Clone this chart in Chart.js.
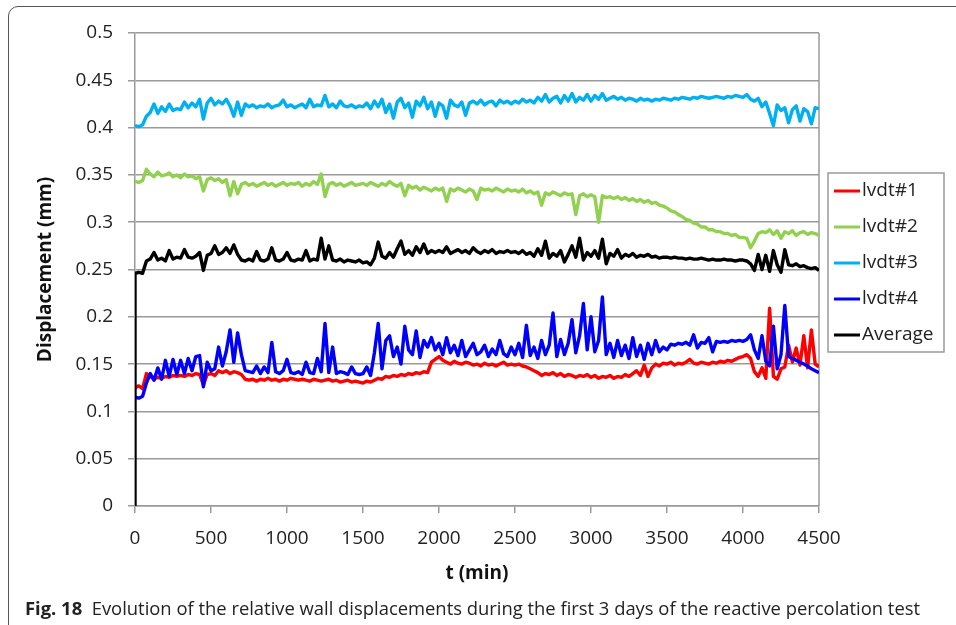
<!DOCTYPE html>
<html>
<head>
<meta charset="utf-8">
<script src="https://cdn.jsdelivr.net/npm/chart.js@4.4.1/dist/chart.umd.min.js"></script>
<style>
  html, body { margin: 0; padding: 0; background: #fff; overflow: hidden; }
  #wrap { position: relative; width: 956px; height: 625px; overflow: hidden; }
  #frame { position: absolute; left: 8px; top: 6px; width: 1000px; height: 640px; border: 1.5px solid #555; border-radius: 10px; }
  canvas { position: absolute; left: 0; top: 0; }
  #caption { position: absolute; left: 25px; top: 595px; font: 18.4px "Open Sans", sans-serif; color: #222; white-space: nowrap; }
</style>
</head>
<body>
<div id="wrap">
  <div id="frame"></div>
  <canvas id="wallChart" width="956" height="625"></canvas>
  <div id="caption"><b>Fig. 18</b>&nbsp; Evolution of the relative wall displacements during the first 3 days of the reactive percolation test</div>
</div>
<script>
// sample times (min), one every 25 min
const t = [
  0, 25, 50, 75, 100, 125, 150, 175, 200, 225, 250, 275, 300, 325, 350, 375, 400, 425, 450, 475,
  500, 525, 550, 575, 600, 625, 650, 675, 700, 725, 750, 775, 800, 825, 850, 875, 900, 925, 950, 975,
  1000, 1025, 1050, 1075, 1100, 1125, 1150, 1175, 1200, 1225, 1250, 1275, 1300, 1325, 1350, 1375, 1400, 1425, 1450, 1475,
  1500, 1525, 1550, 1575, 1600, 1625, 1650, 1675, 1700, 1725, 1750, 1775, 1800, 1825, 1850, 1875, 1900, 1925, 1950, 1975,
  2000, 2025, 2050, 2075, 2100, 2125, 2150, 2175, 2200, 2225, 2250, 2275, 2300, 2325, 2350, 2375, 2400, 2425, 2450, 2475,
  2500, 2525, 2550, 2575, 2600, 2625, 2650, 2675, 2700, 2725, 2750, 2775, 2800, 2825, 2850, 2875, 2900, 2925, 2950, 2975,
  3000, 3025, 3050, 3075, 3100, 3125, 3150, 3175, 3200, 3225, 3250, 3275, 3300, 3325, 3350, 3375, 3400, 3425, 3450, 3475,
  3500, 3525, 3550, 3575, 3600, 3625, 3650, 3675, 3700, 3725, 3750, 3775, 3800, 3825, 3850, 3875, 3900, 3925, 3950, 3975,
  4000, 4025, 4050, 4075, 4100, 4125, 4150, 4175, 4200, 4225, 4250, 4275, 4300, 4325, 4350, 4375, 4400, 4425, 4450, 4475,
  4500
];

// displacements (mm)
const lvdt1 = [
  .125,.127,.124,.140,.137,.134,.136,.135,.137,.136,.138,.137,.138,.137,.139,.138,.140,.139,.128,.139,
  .140,.138,.143,.141,.143,.140,.142,.141,.139,.134,.133,.134,.132,.134,.133,.135,.133,.134,.132,.134,
  .133,.135,.134,.133,.134,.133,.132,.134,.133,.132,.133,.134,.132,.133,.131,.132,.133,.131,.132,.131,
  .130,.132,.131,.133,.135,.134,.137,.136,.138,.137,.139,.138,.140,.139,.141,.140,.142,.141,.152,.155,
  .158,.154,.152,.150,.153,.151,.150,.152,.151,.149,.150,.148,.151,.149,.150,.148,.150,.152,.149,.150,
  .149,.150,.148,.147,.145,.143,.141,.138,.140,.139,.141,.138,.140,.137,.139,.138,.136,.138,.137,.139,
  .136,.138,.135,.137,.136,.138,.135,.137,.136,.139,.137,.140,.143,.138,.149,.137,.146,.150,.148,.151,
  .150,.152,.149,.151,.150,.152,.155,.151,.150,.152,.151,.150,.152,.151,.153,.152,.154,.153,.155,.157,
  .158,.160,.156,.142,.137,.146,.135,.209,.137,.134,.145,.147,.170,.152,.167,.149,.180,.146,.186,.150,
  .147
];
const lvdt2 = [
  .343,.342,.344,.356,.351,.348,.353,.349,.350,.352,.348,.350,.347,.351,.348,.349,.346,.348,.333,.345,
  .347,.344,.346,.342,.345,.328,.343,.330,.340,.342,.339,.341,.338,.340,.342,.339,.341,.338,.340,.342,
  .339,.341,.340,.342,.338,.341,.339,.343,.340,.351,.327,.340,.342,.339,.341,.338,.340,.342,.339,.340,
  .341,.339,.342,.340,.338,.341,.339,.343,.340,.338,.341,.328,.339,.336,.338,.334,.337,.335,.333,.336,
  .334,.336,.322,.335,.333,.336,.334,.332,.335,.333,.324,.336,.334,.335,.333,.336,.334,.332,.335,.333,
  .334,.332,.335,.331,.333,.330,.332,.318,.331,.329,.332,.330,.328,.331,.329,.330,.308,.328,.330,.327,
  .329,.327,.300,.328,.326,.327,.325,.327,.324,.326,.323,.325,.322,.324,.321,.323,.320,.321,.318,.317,
  .315,.312,.311,.308,.306,.303,.302,.299,.298,.295,.295,.292,.292,.290,.290,.288,.288,.286,.287,.284,
  .284,.283,.273,.280,.288,.290,.289,.292,.287,.291,.283,.290,.288,.291,.286,.289,.290,.287,.289,.288,
  .286
];
const lvdt3 = [
  .402,.401,.403,.412,.416,.425,.415,.422,.417,.425,.418,.420,.419,.427,.421,.426,.422,.430,.409,.426,
  .431,.424,.428,.425,.430,.423,.412,.427,.413,.425,.422,.424,.421,.423,.422,.425,.421,.423,.424,.429,
  .422,.424,.421,.423,.425,.421,.430,.422,.424,.423,.434,.422,.425,.421,.428,.423,.422,.424,.421,.423,
  .422,.426,.420,.428,.422,.430,.416,.425,.410,.427,.431,.421,.426,.411,.428,.423,.432,.420,.427,.412,
  .426,.423,.410,.429,.424,.422,.427,.413,.426,.428,.425,.429,.424,.427,.428,.423,.429,.426,.428,.425,
  .428,.426,.430,.427,.429,.426,.432,.428,.435,.427,.431,.433,.426,.434,.428,.436,.427,.432,.429,.435,
  .428,.434,.430,.436,.429,.431,.433,.430,.432,.429,.431,.430,.428,.431,.429,.430,.428,.430,.429,.431,
  .430,.429,.431,.430,.432,.431,.430,.432,.431,.433,.432,.431,.432,.433,.432,.431,.433,.432,.434,.433,
  .432,.435,.430,.428,.431,.422,.427,.415,.402,.424,.418,.421,.405,.419,.423,.407,.420,.417,.404,.421,
  .420
];
const lvdt4 = [
  .115,.114,.116,.130,.140,.133,.146,.134,.154,.137,.155,.139,.154,.140,.156,.143,.158,.159,.126,.152,
  .143,.145,.168,.148,.163,.186,.152,.183,.160,.143,.142,.141,.148,.140,.147,.141,.173,.142,.140,.143,
  .155,.141,.140,.142,.139,.152,.141,.140,.156,.142,.193,.141,.168,.140,.142,.141,.139,.147,.140,.139,
  .140,.147,.138,.162,.193,.145,.175,.180,.158,.168,.150,.190,.165,.160,.185,.157,.175,.168,.178,.165,
  .172,.160,.178,.162,.170,.159,.175,.158,.165,.172,.160,.163,.170,.158,.166,.160,.175,.161,.158,.168,
  .160,.172,.157,.191,.159,.168,.156,.175,.160,.170,.204,.158,.176,.160,.172,.197,.162,.180,.214,.165,
  .200,.163,.175,.221,.160,.172,.157,.175,.159,.170,.156,.178,.158,.170,.155,.172,.160,.175,.163,.168,
  .165,.171,.170,.172,.171,.173,.170,.181,.167,.173,.172,.178,.163,.174,.173,.174,.173,.175,.174,.175,
  .174,.176,.181,.165,.156,.180,.153,.148,.190,.145,.160,.212,.158,.156,.154,.152,.150,.148,.145,.143,
  .141
];
// the average starts from 0 at t = 0
const avgTimes = [0].concat(t);
const average = [
  0,
  .246,.247,.246,.259,.261,.268,.260,.262,.259,.270,.261,.263,.262,.271,.263,.262,.264,.268,.249,.265,
  .267,.275,.266,.268,.273,.267,.276,.266,.260,.259,.261,.259,.269,.260,.259,.261,.273,.260,.259,.261,
  .268,.260,.259,.261,.260,.270,.259,.261,.260,.283,.261,.275,.260,.259,.261,.258,.260,.259,.258,.260,
  .257,.258,.255,.262,.279,.264,.262,.268,.263,.272,.280,.266,.270,.265,.274,.268,.277,.267,.270,.268,
  .270,.268,.274,.267,.269,.271,.268,.270,.267,.273,.269,.267,.270,.268,.271,.267,.269,.268,.270,.268,
  .269,.267,.270,.266,.268,.264,.272,.265,.280,.262,.267,.264,.270,.258,.266,.275,.263,.283,.260,.268,
  .264,.270,.262,.282,.256,.267,.264,.271,.262,.266,.264,.267,.263,.265,.264,.266,.263,.264,.262,.263,
  .263,.262,.263,.262,.262,.261,.262,.261,.261,.262,.261,.260,.261,.260,.260,.261,.260,.260,.259,.260,
  .260,.259,.256,.249,.266,.250,.265,.248,.270,.255,.247,.271,.255,.254,.256,.253,.254,.252,.251,.252,
  .249
];

const seriesNames = ['lvdt#1', 'lvdt#2', 'lvdt#3', 'lvdt#4', 'Average'];
const seriesColors = ['#ff0000', '#92d050', '#00b0f0', '#0000ff', '#000000'];
const xTicks = ['0', '500', '1000', '1500', '2000', '2500', '3000', '3500', '4000', '4500'];
const yTicks = ['0', '0.05', '0.1', '0.15', '0.2', '0.25', '0.3', '0.35', '0.4', '0.45', '0.5'];

const FONT = "'Open Sans', 'Liberation Sans', sans-serif";

function pts(vals, times) {
    return vals.map((v, i) => ({ x: times[i], y: v }));
}

const allSeries = [
    { vals: lvdt1, times: t },
    { vals: lvdt2, times: t },
    { vals: lvdt3, times: t },
    { vals: lvdt4, times: t },
    { vals: average, times: avgTimes }
];

const datasets = allSeries.map((s, i) => ({
    label: seriesNames[i],
    data: pts(s.vals, s.times),
    borderColor: seriesColors[i],
    backgroundColor: seriesColors[i],
    borderWidth: 3.4,
    order: 5 - i   // later series drawn on top, like the original
}));

// right edge of the plot area
const plotFrame = {
    id: 'plotFrame',
    beforeDatasetsDraw(chart) {
        const c = chart.ctx, a = chart.chartArea;
        c.save();
        c.strokeStyle = '#9a9a9a';
        c.lineWidth = 1.5;
        c.beginPath();
        c.moveTo(a.right, a.top);
        c.lineTo(a.right, a.bottom);
        c.stroke();
        c.restore();
    }
};

// boxed legend to the right of the plot
const legendBox = {
    id: 'legendBox',
    afterDraw(chart) {
        const c = chart.ctx, a = chart.chartArea;
        const x0 = a.right + 9, y0 = 173, w = 116, h = 179;
        c.save();
        c.strokeStyle = '#9a9a9a';
        c.lineWidth = 1.5;
        c.strokeRect(x0, y0, w, h);
        c.font = "19px " + FONT;
        c.textBaseline = 'middle';
        seriesNames.forEach((name, i) => {
            const y = y0 + 18 + i * 36;
            c.strokeStyle = seriesColors[i];
            c.lineWidth = 3;
            c.beginPath();
            c.moveTo(x0 + 6, y);
            c.lineTo(x0 + 32, y);
            c.stroke();
            c.fillStyle = '#222';
            c.fillText(name, x0 + 34, y);
        });
        c.restore();
    }
};

const ctx = document.getElementById('wallChart').getContext('2d');

new Chart(ctx, {
    type: 'line',
    data: { datasets: datasets },
    options: {
        responsive: false,
        animation: false,
        layout: { padding: { top: 33, right: 137, bottom: 35, left: 10 } },
        elements: {
            point: { radius: 0 },
            line: { tension: 0, borderJoinStyle: 'round' }
        },
        plugins: {
            legend: { display: false },
            tooltip: { enabled: false }
        },
        scales: {
            x: {
                type: 'linear',
                min: 0,
                max: 4500,
                ticks: {
                    stepSize: 500,
                    maxRotation: 0,
                    padding: 14,
                    color: '#222',
                    font: { family: FONT, size: 19 },
                    callback: (v, i) => xTicks[i]
                },
                grid: { drawOnChartArea: false, color: '#9a9a9a', lineWidth: 1.5, tickLength: 7 },
                border: { color: '#9a9a9a', width: 1.5 },
                title: {
                    display: true,
                    text: 't (min)',
                    color: '#111',
                    font: { family: FONT, size: 19, weight: 'bold' },
                    padding: { top: 0, bottom: 5 }
                },
                afterFit: s => { s.height = 84; }
            },
            y: {
                min: 0,
                max: 0.5,
                ticks: {
                    stepSize: 0.05,
                    padding: 15,
                    color: '#222',
                    font: { family: FONT, size: 19 },
                    callback: (v, i) => yTicks[i]
                },
                grid: { color: '#9a9a9a', lineWidth: 1.5, tickLength: 7 },
                border: { color: '#9a9a9a', width: 1.5 },
                title: {
                    display: true,
                    text: 'Displacement (mm)',
                    color: '#111',
                    font: { family: FONT, size: 19, weight: 'bold' },
                    padding: { top: 24, bottom: 0 }
                },
                afterFit: s => { s.width = 125; }
            }
        }
    },
    plugins: [plotFrame, legendBox]
});
</script>
</body>
</html>
